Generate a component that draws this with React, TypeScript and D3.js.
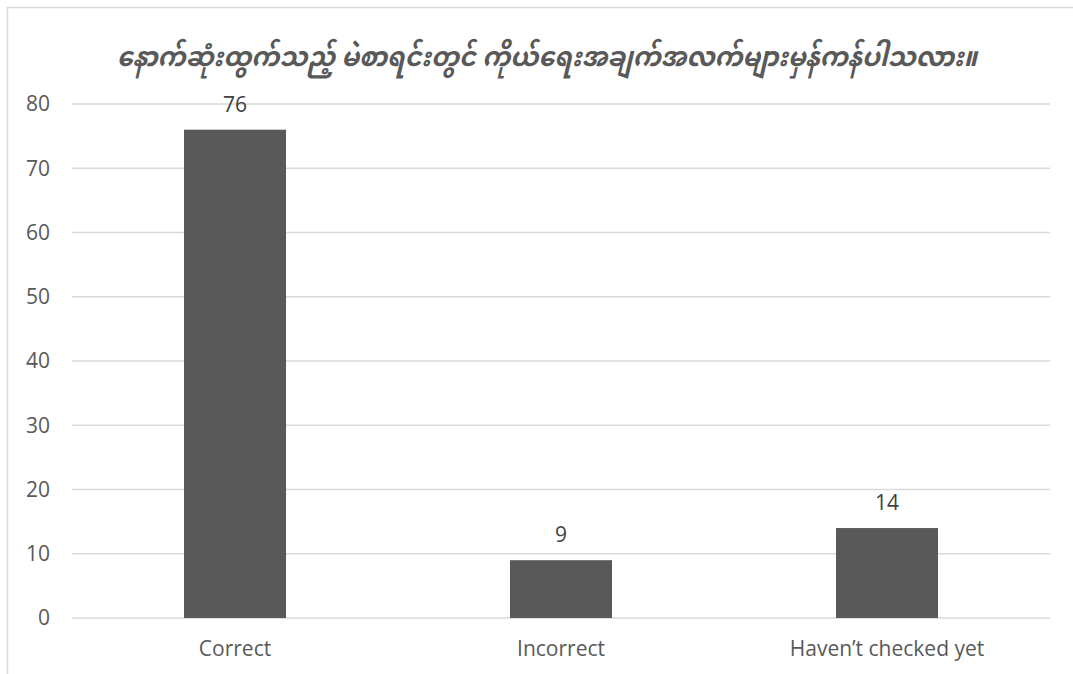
import React from "react";
import * as d3 from "d3";

const title = "နောက်ဆုံးထွက်သည့် မဲစာရင်းတွင် ကိုယ်ရေးအချက်အလက်များမှန်ကန်ပါသလား။";
const categories = ["Correct", "Incorrect", "Haven\u2019t checked yet"];
const values = [76, 9, 14];
const yTicks = [0, 10, 20, 30, 40, 50, 60, 70, 80];

const W = 1073;
const H = 674;
const margin = { left: 72, right: 23, top: 104, bottom: 56 };
const FONT = "'Open Sans', 'Noto Sans', sans-serif";

export default function App() {
  const x = d3
    .scaleBand<string>()
    .domain(categories)
    .range([margin.left, W - margin.right])
    .paddingInner(0.687)
    .paddingOuter(0.3435);
  const y = d3.scaleLinear().domain([0, 80]).range([H - margin.bottom, margin.top]);

  return (
    <div style={{ position: "absolute", left: 0, top: 0, width: W, height: H, background: "#fff" }}>
      <svg width={W} height={H} style={{ display: "block" }}>
        <rect x={0} y={0} width={W} height={H} fill="#fff" />
        <rect x={7.5} y={7.5} width={W + 50} height={H + 50} fill="none" stroke="#d9d9d9" strokeWidth={1.5} />
        <text
          x={547}
          y={66}
          textAnchor="middle"
          fontFamily="'Myanmar Text', 'Noto Sans Myanmar', Padauk, 'Noto Sans', sans-serif"
          fontSize={27}
          fontStyle="italic"
          fontWeight="bold"
          fill="#595959"
          textLength={860}
          lengthAdjust="spacingAndGlyphs"
        >
          {title}
        </text>
        {yTicks.map((t) => (
          <g key={t}>
            <line x1={margin.left} x2={W - margin.right} y1={y(t)} y2={y(t)} stroke="#d9d9d9" strokeWidth={1.3} />
            <text x={50} y={y(t)} dy="0.35em" textAnchor="end" fontFamily={FONT} fontSize={21} fill="#595959">
              {t}
            </text>
          </g>
        ))}
        {categories.map((c, i) => (
          <g key={c}>
            <rect x={x(c)} y={y(values[i])} width={x.bandwidth()} height={y(0) - y(values[i])} fill="#595959" />
            <text
              x={(x(c) as number) + x.bandwidth() / 2}
              y={y(values[i]) - 18}
              textAnchor="middle"
              fontFamily={FONT}
              fontSize={21}
              fill="#404040"
            >
              {values[i]}
            </text>
            <text
              x={(x(c) as number) + x.bandwidth() / 2}
              y={656}
              textAnchor="middle"
              fontFamily={FONT}
              fontSize={21}
              fill="#595959"
            >
              {c}
            </text>
          </g>
        ))}
      </svg>
    </div>
  );
}
